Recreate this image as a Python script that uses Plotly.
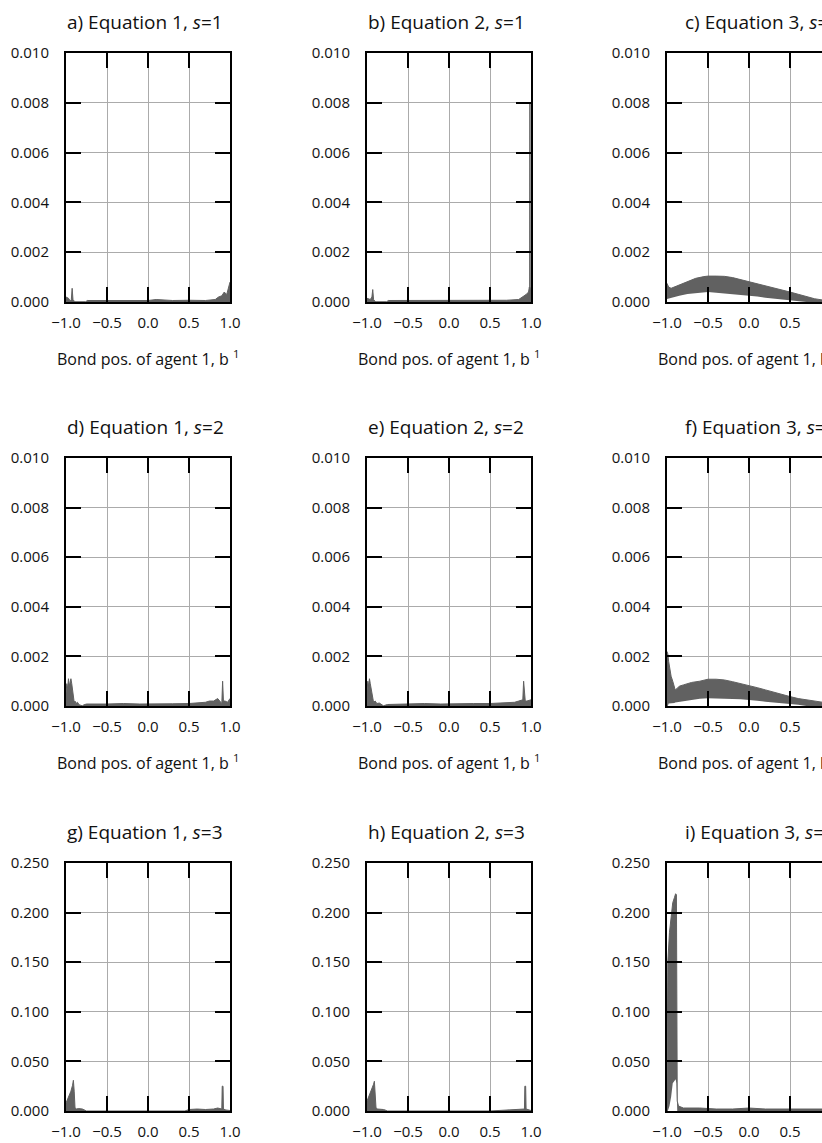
import plotly.graph_objects as go

# ---------------- data ----------------
x_ticks = [-1.0, -0.5, 0.0, 0.5, 1.0]
y_ticks_small = [0.0, 0.002, 0.004, 0.006, 0.008, 0.010]
y_ticks_large = [0.0, 0.05, 0.10, 0.15, 0.20, 0.25]

titles = ["a) Equation 1, <i>s</i>=1", "b) Equation 2, <i>s</i>=1", "c) Equation 3, <i>s</i>=1",
          "d) Equation 1, <i>s</i>=2", "e) Equation 2, <i>s</i>=2", "f) Equation 3, <i>s</i>=2",
          "g) Equation 1, <i>s</i>=3", "h) Equation 2, <i>s</i>=3", "i) Equation 3, <i>s</i>=3"]
x_title = "Bond pos. of agent 1, b <sup>1</sup>"

# a) Equation 1, s=1
x_a = [-1.0, -0.99, -0.97, -0.95, -0.935, -0.925, -0.915, -0.9, -0.88, -0.76, -0.74, -0.5,
       -0.2, 0.0, 0.1, 0.3, 0.5, 0.7, 0.82, 0.86, 0.9, 0.93, 0.96, 0.98, 1.0]
y_a = [0.0002, 0.00018, 0.00015, 0.00005, 0.0001, 0.00055, 0.0001, 0.00003, 0.00001, 0.00001,
       0.00006, 0.00006, 0.00007, 0.00006, 0.0001, 0.00006, 0.00007, 0.00006, 0.0001, 0.0002,
       0.00025, 0.0004, 0.0003, 0.0006, 0.0008]

# b) Equation 2, s=1
x_b = [-1.0, -0.98, -0.96, -0.94, -0.93, -0.92, -0.9, -0.88, -0.76, -0.74, -0.5, -0.2, 0.0,
       0.3, 0.5, 0.7, 0.85, 0.9, 0.94, 0.97, 0.98, 0.984, 0.987, 0.99, 1.0]
y_b = [0.00015, 0.00012, 0.0001, 0.0002, 0.0005, 0.0001, 0.00002, 0.00001, 0.00001, 0.00006,
       0.00006, 0.00006, 0.00007, 0.00006, 0.00006, 0.00007, 0.0001, 0.0002, 0.0003, 0.0004,
       0.0006, 0.0005, 0.008, 0.0006, 0.0005]

# c) Equation 3, s=1  (band: lower / upper envelope)
x_c = [-1.0, -0.98, -0.95, -0.9, -0.85, -0.75, -0.65, -0.55, -0.5, -0.4, -0.3, -0.2, -0.1,
       0.0, 0.1, 0.2, 0.3, 0.4, 0.5, 0.6, 0.7, 0.8, 0.9, 1.0]
hi_c = [0.00075, 0.0006, 0.00055, 0.00062, 0.0007, 0.00082, 0.00095, 0.00102, 0.00104, 0.00104,
        0.00103, 0.00098, 0.0009, 0.00082, 0.00075, 0.00067, 0.00058, 0.00049, 0.0004, 0.00031,
        0.00022, 0.00013, 0.00008, 0.00005]
lo_c = [0.00012, 0.00014, 0.00015, 0.0002, 0.00025, 0.00032, 0.00036, 0.00038, 0.0004, 0.00037,
        0.00034, 0.00031, 0.00029, 0.00027, 0.00022, 0.00017, 0.00013, 0.0001, 0.00006, 0.00003,
        0.0, 0.0, 0.0, 0.0]

# d) Equation 1, s=2
x_d = [-1.0, -0.99, -0.98, -0.97, -0.96, -0.95, -0.94, -0.93, -0.92, -0.91, -0.9, -0.89, -0.88,
       -0.86, -0.84, -0.82, -0.8, -0.78, -0.75, -0.5, -0.3, -0.1, 0.1, 0.3, 0.5, 0.6, 0.7, 0.75,
       0.8, 0.85, 0.88, 0.9, 0.91, 0.92, 0.94, 0.97, 1.0]
y_d = [0.0005, 0.0009, 0.0007, 0.0011, 0.0008, 0.001, 0.0011, 0.0009, 0.0006, 0.0002, 0.00015,
       0.0002, 0.0001, 0.00015, 0.00005, 0.00003, 0.00001, 0.00005, 0.00008, 0.00008, 0.0001,
       0.00008, 0.0001, 0.00009, 0.0001, 0.00012, 0.00015, 0.0002, 0.0002, 0.0003, 0.0002,
       0.0001, 0.001, 0.0002, 0.0002, 0.00015, 0.0003]

# e) Equation 2, s=2
x_e = [-1.0, -0.99, -0.98, -0.97, -0.96, -0.95, -0.94, -0.93, -0.92, -0.9, -0.88, -0.85,
       -0.82, -0.8, -0.75, -0.5, -0.3, -0.1, 0.1, 0.3, 0.5, 0.7, 0.8, 0.85, 0.9, 0.91, 0.92,
       0.93, 0.95, 1.0]
y_e = [0.0006, 0.001, 0.0008, 0.0011, 0.0009, 0.0007, 0.0004, 0.0002, 0.00015, 0.0002, 0.0001,
       0.00012, 0.00003, 0.00001, 0.00006, 0.00008, 0.0001, 0.00008, 0.0001, 0.0001, 0.0001,
       0.00012, 0.00015, 0.0002, 0.00025, 0.001, 0.0003, 0.0002, 0.0002, 0.00025]

# f) Equation 3, s=2  (band)
x_f = [-1.0, -0.99, -0.98, -0.97, -0.95, -0.93, -0.91, -0.9, -0.88, -0.85, -0.8, -0.7, -0.6,
       -0.5, -0.4, -0.3, -0.2, -0.1, 0.0, 0.1, 0.2, 0.3, 0.4, 0.5, 0.6, 0.7, 0.8, 0.9, 1.0]
hi_f = [0.0022, 0.0021, 0.0018, 0.0016, 0.0012, 0.001, 0.0008, 0.00065, 0.0007, 0.0008,
        0.00085, 0.00095, 0.001, 0.00108, 0.00108, 0.00105, 0.00098, 0.00091, 0.00083, 0.00074,
        0.00065, 0.00055, 0.00046, 0.00038, 0.0003, 0.00024, 0.0002, 0.00015, 0.0001]
lo_f = [0.0, 0.0, 0.0001, 0.0001, 0.0001, 0.0001, 0.00012, 0.00014, 0.00015, 0.00017, 0.0002,
        0.00025, 0.00029, 0.00031, 0.00031, 0.0003, 0.00028, 0.00027, 0.00025, 0.00021, 0.00017,
        0.00014, 0.00012, 0.0001, 0.00005, 0.0, 0.0, 0.0, 0.0]

# g) Equation 1, s=3
x_g = [-1.0, -0.98, -0.96, -0.94, -0.92, -0.91, -0.9, -0.895, -0.89, -0.87, -0.85, -0.8,
       -0.78, -0.75, 0.45, 0.5, 0.6, 0.7, 0.8, 0.85, 0.9, 0.905, 0.915, 0.92, 0.95, 1.0]
y_g = [0.008, 0.012, 0.016, 0.02, 0.026, 0.031, 0.02, 0.005, 0.003, 0.002, 0.0025, 0.002,
       0.001, 0.0, 0.0, 0.0015, 0.002, 0.0015, 0.002, 0.003, 0.002, 0.025, 0.025, 0.002, 0.001,
       0.0005]

# h) Equation 2, s=3
x_h = [-1.0, -0.98, -0.96, -0.94, -0.92, -0.91, -0.9, -0.895, -0.89, -0.87, -0.85, -0.8,
       -0.78, -0.75, 0.5, 0.6, 0.7, 0.8, 0.88, 0.92, 0.925, 0.935, 0.94, 0.97, 1.0]
y_h = [0.01, 0.014, 0.018, 0.022, 0.027, 0.03, 0.02, 0.006, 0.003, 0.002, 0.002, 0.0015,
       0.001, 0.0, 0.0, 0.0005, 0.001, 0.001, 0.0015, 0.002, 0.025, 0.025, 0.002, 0.001, 0.0005]

# i) Equation 3, s=3  (band)
x_i = [-1.0, -0.99, -0.97, -0.95, -0.93, -0.91, -0.895, -0.885, -0.875, -0.86, -0.8, -0.6,
       -0.4, -0.2, 0.0, 0.2, 0.4, 0.6, 0.8, 0.9]
hi_i = [0.02, 0.15, 0.18, 0.196, 0.21, 0.215, 0.219, 0.218, 0.01, 0.005, 0.003, 0.003, 0.002,
        0.002, 0.003, 0.002, 0.002, 0.002, 0.002, 0.002]
lo_i = [0.0, 0.0, 0.005, 0.014, 0.028, 0.031, 0.032, 0.028, 0.0, 0.0, 0.0, 0.0, 0.0, 0.0, 0.0,
        0.0, 0.0, 0.0, 0.0, 0.0]

panels = [
    (x_a, None, y_a), (x_b, None, y_b), (x_c, lo_c, hi_c),
    (x_d, None, y_d), (x_e, None, y_e), (x_f, lo_f, hi_f),
    (x_g, None, y_g), (x_h, None, y_h), (x_i, lo_i, hi_i),
]

# ---------------- layout geometry (pixels) ----------------
W, H = 822, 1143
col_left = [66, 367, 667]
plot_w = 164
row_top = [53, 458, 863]
row_bot = [302, 706, 1111]
title_left_c = 683  # third-column titles start here (they run past the edge)

FONT = "Open Sans"
TXT = "#111111"
FILL = "#616161"
GRID = "#ababab"


def px(x):
    return x / W


def py(y):
    return 1 - y / H


fig = go.Figure()
layout = dict(
    width=W, height=H, margin=dict(l=0, r=0, t=0, b=0, autoexpand=False),
    paper_bgcolor="white", plot_bgcolor="white", showlegend=False,
    font=dict(family=FONT, color=TXT, size=15),
)
annotations = []

for k, (xs, lo, hi) in enumerate(panels):
    r, c = divmod(k, 3)
    n = k + 1
    xa = "x" if n == 1 else f"x{n}"
    ya = "y" if n == 1 else f"y{n}"
    if lo is not None:
        fig.add_trace(go.Scatter(x=xs, y=lo, xaxis=xa, yaxis=ya, mode="lines",
                                 line=dict(width=0, color=FILL), hoverinfo="skip"))
        fig.add_trace(go.Scatter(x=xs, y=hi, xaxis=xa, yaxis=ya, mode="lines",
                                 line=dict(width=1, color=FILL), fill="tonexty",
                                 fillcolor=FILL))
    else:
        fig.add_trace(go.Scatter(x=xs, y=hi, xaxis=xa, yaxis=ya, mode="lines",
                                 line=dict(width=1, color=FILL), fill="tozeroy",
                                 fillcolor=FILL))

    left = col_left[c]
    right = min(left + plot_w, W)
    xmax = -1 + 2 * (right - left) / plot_w
    clipped = right < left + plot_w
    ytick = y_ticks_large if r == 2 else y_ticks_small
    xkey = "xaxis" if n == 1 else f"xaxis{n}"
    ykey = "yaxis" if n == 1 else f"yaxis{n}"
    layout[xkey] = dict(
        domain=[px(left), px(right)], anchor=ya, range=[-1, xmax], automargin=False,
        tickmode="array", tickvals=x_ticks, tickformat=".1f",
        ticks="inside", ticklen=15, tickwidth=2, tickcolor="black",
        showline=True, linewidth=2, linecolor="black", mirror="ticks",
        showgrid=True, gridcolor=GRID, gridwidth=1, zeroline=False,
        tickfont=dict(size=15, family=FONT, color=TXT), ticklabelstandoff=6,
        fixedrange=True,
    )
    layout[ykey] = dict(
        domain=[py(row_bot[r]), py(row_top[r])], anchor=xa, range=[0, ytick[-1]],
        automargin=False,
        tickmode="array", tickvals=ytick, tickformat=".3f",
        ticks="inside", ticklen=15, tickwidth=2, tickcolor="black",
        showline=True, linewidth=2, linecolor="black",
        mirror=False if clipped else "ticks",
        showgrid=True, gridcolor=GRID, gridwidth=1, zeroline=False,
        tickfont=dict(size=15, family=FONT, color=TXT), ticklabelstandoff=12,
        fixedrange=True,
    )
    cx = left + plot_w / 2
    if c == 2:
        tx, tanchor = px(title_left_c), "left"
    else:
        tx, tanchor = px(cx - 3), "center"
    annotations.append(dict(
        text=titles[k], x=tx, y=py(row_top[r] - 31), xref="paper", yref="paper",
        xanchor=tanchor, yanchor="middle", showarrow=False,
        font=dict(size=19, family=FONT, color=TXT)))
    if r < 2:
        annotations.append(dict(
            text=x_title, x=px(cx), y=py(row_bot[r] + 56), xref="paper", yref="paper",
            xanchor="center", yanchor="middle", showarrow=False,
            font=dict(size=16, family=FONT, color=TXT)))

layout["annotations"] = annotations
fig.update_layout(**layout)
fig.write_html("out.html")
